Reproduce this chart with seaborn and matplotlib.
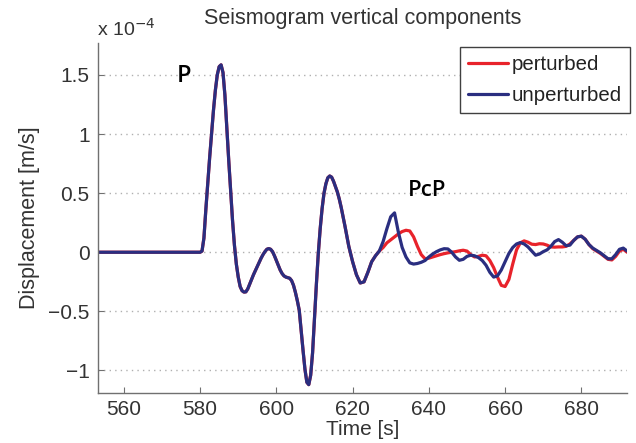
import numpy as np
import pandas as pd
import matplotlib
matplotlib.use("Agg")
import matplotlib.pyplot as plt
import seaborn as sns

# Vertical displacement, in units of 1e-4 m/s
# Quiet part before the P arrival
t_quiet = [553.0]
v_quiet = [0.0]

# P wave and following coda, sampled every 0.5 s (579 s .. 617 s)
t_fine = np.arange(579.0, 617.01, 0.5)
v_fine = [
    0.0, 0.0, 0.0, 0.01, 0.12, 0.36, 0.58, 0.80, 1.00, 1.20,
    1.37, 1.50, 1.57, 1.585, 1.52, 1.33, 1.05, 0.78, 0.52, 0.27,
    0.06, -0.10, -0.21, -0.29, -0.325, -0.337, -0.335, -0.31, -0.27, -0.23,
    -0.19, -0.155, -0.12, -0.085, -0.05, -0.02, 0.005, 0.025, 0.031, 0.025,
    0.005, -0.03, -0.07, -0.11, -0.15, -0.18, -0.20, -0.21, -0.215, -0.22,
    -0.24, -0.28, -0.34, -0.41, -0.49, -0.66, -0.83, -0.99, -1.10, -1.12,
    -1.04, -0.85, -0.56, -0.27, -0.01, 0.20, 0.37, 0.50, 0.58, 0.63,
    0.645, 0.635, 0.60, 0.555, 0.51, 0.45, 0.38,
]

# Common part sampled every 1 s (618 s .. 626 s)
t_common = np.arange(618.0, 626.01, 1.0)
v_common = [0.22, 0.05, -0.08, -0.19, -0.26, -0.25, -0.17, -0.08, -0.03]

# After the models diverge (627 s .. 692 s)
t_late = np.arange(627.0, 692.01, 1.0)
unperturbed_late = [
    0.01, 0.09, 0.20, 0.30, 0.333, 0.17, 0.04, -0.04, -0.09, -0.10,
    -0.095, -0.085, -0.07, -0.04, -0.015, 0.005, 0.02, 0.03, 0.028, 0.0,
    -0.04, -0.068, -0.06, -0.035, -0.025, -0.03, -0.045, -0.07, -0.11, -0.17,
    -0.21, -0.20, -0.15, -0.08, -0.01, 0.04, 0.07, 0.082, 0.07, 0.045,
    0.01, -0.025, -0.015, 0.005, 0.02, 0.05, 0.09, 0.107, 0.085, 0.055,
    0.06, 0.10, 0.13, 0.136, 0.11, 0.065, 0.035, 0.015, -0.005, -0.03,
    -0.055, -0.055, -0.02, 0.025, 0.035, 0.01,
]
perturbed_late = [
    0.01, 0.04, 0.08, 0.105, 0.13, 0.155, 0.175, 0.186, 0.18, 0.13,
    0.05, -0.02, -0.055, -0.05, -0.04, -0.03, -0.02, -0.012, -0.005, 0.0,
    0.005, 0.012, 0.017, 0.01, -0.02, -0.04, -0.035, -0.025, -0.03, -0.07,
    -0.13, -0.21, -0.28, -0.29, -0.23, -0.10, 0.02, 0.08, 0.096, 0.085,
    0.068, 0.065, 0.072, 0.07, 0.06, 0.045, 0.043, 0.045, 0.045, 0.05,
    0.07, 0.10, 0.13, 0.136, 0.11, 0.065, 0.03, 0.01, -0.01, -0.035,
    -0.06, -0.065, -0.035, 0.01, 0.025, 0.0,
]

series_names = ["perturbed", "unperturbed"]
series_colors = ["#e8232b", "#2a2e80"]

time = np.concatenate([t_quiet, t_fine, t_common, t_late])
shared = list(v_quiet) + list(v_fine) + list(v_common)
unperturbed = np.array(shared + unperturbed_late)
perturbed = np.array(shared + perturbed_late)

df = pd.concat([
    pd.DataFrame({"time": time, "disp": perturbed, "model": "perturbed"}),
    pd.DataFrame({"time": time, "disp": unperturbed, "model": "unperturbed"}),
])

sns.set_style("white")
plt.rcParams["font.family"] = ["Liberation Sans", "DejaVu Sans"]

fig = plt.figure(figsize=(6.36, 4.43), dpi=100)
ax = fig.add_axes([0.154, 0.113, 0.832, 0.790])

sns.lineplot(data=df, x="time", y="disp", hue="model", hue_order=series_names,
             palette=dict(zip(series_names, series_colors)), estimator=None,
             linewidth=2.3, ax=ax)

ax.set_xlim(553.2, 692)
ax.set_ylim(-1.19, 1.77)
ax.set_xticks([560, 580, 600, 620, 640, 660, 680])
ax.set_yticks([-1, -0.5, 0, 0.5, 1, 1.5])
ax.set_yticklabels(["\u22121", "\u22120.5", "0", "0.5", "1", "1.5"])

ax.yaxis.grid(True, linestyle=(0, (1, 3)), color="#b0b0b0", linewidth=1.0)
ax.xaxis.grid(False)
ax.set_axisbelow(True)

for side in ["top", "right"]:
    ax.spines[side].set_visible(False)
for side in ["left", "bottom"]:
    ax.spines[side].set_color("#707070")
    ax.spines[side].set_linewidth(1.0)

ax.tick_params(axis="both", which="major", bottom=True, left=True,
               top=False, right=False, direction="in", length=4, width=0.8,
               color="#707070", labelsize=15, labelcolor="#333333")
ax.tick_params(axis="x", pad=5)
ax.tick_params(axis="y", pad=6)

ax.set_xlabel("Time [s]", fontsize=15, color="#333333", labelpad=0.5)
ax.set_ylabel("Displacement [m/s]", fontsize=15.5, color="#333333", labelpad=6)
ax.set_title("Seismogram vertical components", fontsize=15.5,
             color="#333333", pad=14)

# Exponent shown above the y axis
fig.text(0.152, 0.935, "x 10$^{-4}$", fontsize=14, color="#333333",
         ha="left", va="center")

# Phase labels
ax.text(575.8, 1.49, "P", family=["Open Sans", "DejaVu Sans"], fontsize=17,
        fontweight="semibold", ha="center", va="center", color="black")
ax.text(639.5, 0.52, "PcP", family=["Open Sans", "DejaVu Sans"], fontsize=16,
        fontweight="semibold", ha="center", va="center", color="black")

ax.get_legend().remove()
handles = [plt.Line2D([], [], color=c, linewidth=2.3) for c in series_colors]
leg = fig.legend(handles, series_names, loc="upper right",
                 bbox_to_anchor=(630 / 636, 1 - 47 / 443), fontsize=14.7,
                 frameon=True, fancybox=False, framealpha=1,
                 edgecolor="#404040", handlelength=1.95, handletextpad=0.2,
                 borderpad=0.38, labelspacing=0.62, borderaxespad=0)
leg.get_frame().set_linewidth(1.0)
for txt in leg.get_texts():
    txt.set_color("#222222")

fig.savefig("out.png", dpi=100)
